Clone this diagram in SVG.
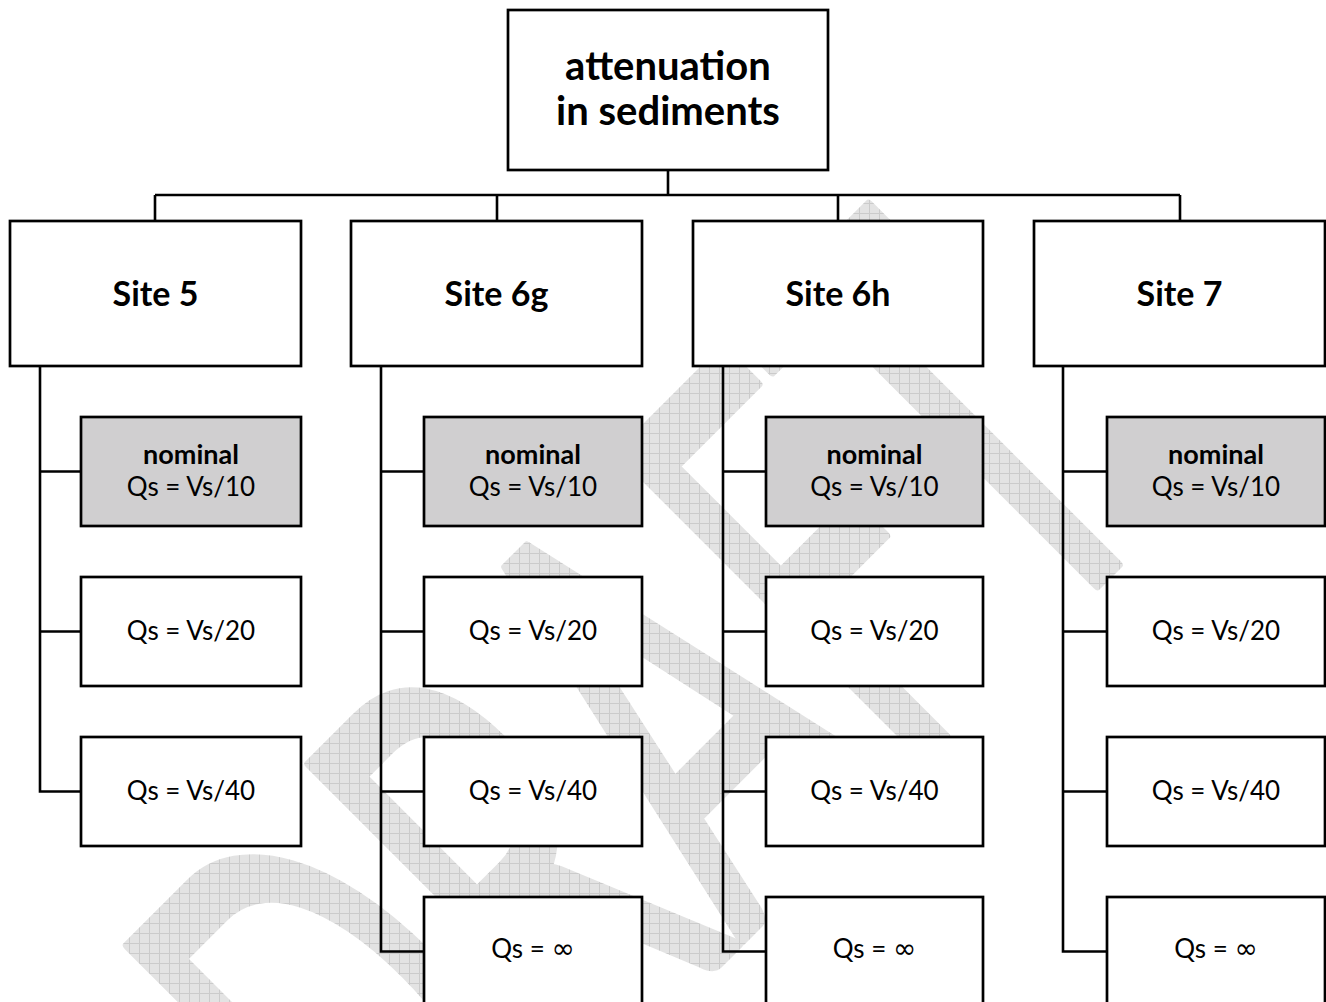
<svg xmlns="http://www.w3.org/2000/svg" width="1326" height="1002" viewBox="0 0 1326 1002">
  <style>
    .box { fill: #ffffff; stroke: #000000; stroke-width: 2.7; }
    .shade { fill: #d0cfd0; }
    .wire { fill: none; stroke: #000000; stroke-width: 2.6; stroke-linejoin: miter; }
    .t { font-family: Lato, "Open Sans", "Liberation Sans", sans-serif; fill: #000000; text-anchor: middle; }
    .title { font-size: 40px; font-weight: bold; }
    .site { font-size: 34px; font-weight: bold; }
    .lbl { font-size: 26px; }
    .lblb { font-size: 27px; font-weight: bold; }
    .inf { font-family: "DejaVu Sans", sans-serif; font-size: 28px; }
    .mark { font-family: Lato, "Open Sans", "Liberation Sans", sans-serif; font-size: 600px; }
  </style>
  <defs>
    <!-- light grid fill for the background stamp; counter-rotated so the grid stays square to the page -->
    <pattern id="hatch" width="10" height="10" patternUnits="userSpaceOnUse" patternTransform="rotate(45)">
      <rect width="10" height="10" fill="#e3e3e3"/>
      <path d="M0 0.5H10M0.5 0V10" stroke="#cbcbcb" stroke-width="1"/>
    </pattern>
  </defs>

  <rect width="1326" height="1002" fill="#ffffff"/>

  <!-- background stamp -->
  <g id="stamp">
    <text class="mark" x="0" y="0" transform="translate(409 1273) rotate(-45)" textLength="1087" lengthAdjust="spacingAndGlyphs" fill="url(#hatch)" stroke="url(#hatch)" stroke-width="10" stroke-linejoin="round">DRAFT</text>
  </g>

  <!-- connectors -->
  <g id="connectors" class="wire">
    <path d="M668 170V195M155 195H1180M155 195V221M497 195V221M838 195V221M1180 195V221"/>
    <path d="M40 366V791.5H81M40 471.5H81M40 631.5H81"/>
    <path d="M381 366V951.5H424M381 471.5H424M381 631.5H424M381 791.5H424"/>
    <path d="M723 366V951.5H766M723 471.5H766M723 631.5H766M723 791.5H766"/>
    <path d="M1063 366V951.5H1107M1063 471.5H1107M1063 631.5H1107M1063 791.5H1107"/>
  </g>

  <!-- root -->
  <g id="root">
    <rect class="box" x="508" y="10" width="320" height="160"/>
    <text class="t title" x="668" y="80">attenuation</text>
    <text class="t title" x="668" y="125">in sediments</text>
  </g>

  <!-- sites -->
  <g id="site5">
    <rect class="box" x="10" y="221" width="291" height="145"/>
    <text class="t site" x="155.5" y="306">Site 5</text>
  </g>
  <g id="site6g">
    <rect class="box" x="351" y="221" width="291" height="145"/>
    <text class="t site" x="496.5" y="306">Site 6g</text>
  </g>
  <g id="site6h">
    <rect class="box" x="693" y="221" width="290" height="145"/>
    <text class="t site" x="838" y="306">Site 6h</text>
  </g>
  <g id="site7">
    <rect class="box" x="1034" y="221" width="291" height="145"/>
    <text class="t site" x="1179.5" y="306">Site 7</text>
  </g>

  <!-- Site 5 cases -->
  <g id="s5-nominal">
    <rect class="box shade" x="81" y="417" width="220" height="109"/>
    <text class="t lblb" x="191" y="464">nominal</text>
    <text class="t lbl" x="191" y="496">Qs = Vs/10</text>
  </g>
  <g id="s5-q20">
    <rect class="box" x="81" y="577" width="220" height="109"/>
    <text class="t lbl" x="191" y="640">Qs = Vs/20</text>
  </g>
  <g id="s5-q40">
    <rect class="box" x="81" y="737" width="220" height="109"/>
    <text class="t lbl" x="191" y="800">Qs = Vs/40</text>
  </g>

  <!-- Site 6g cases -->
  <g id="s6g-nominal">
    <rect class="box shade" x="424" y="417" width="218" height="109"/>
    <text class="t lblb" x="533" y="464">nominal</text>
    <text class="t lbl" x="533" y="496">Qs = Vs/10</text>
  </g>
  <g id="s6g-q20">
    <rect class="box" x="424" y="577" width="218" height="109"/>
    <text class="t lbl" x="533" y="640">Qs = Vs/20</text>
  </g>
  <g id="s6g-q40">
    <rect class="box" x="424" y="737" width="218" height="109"/>
    <text class="t lbl" x="533" y="800">Qs = Vs/40</text>
  </g>
  <g id="s6g-qinf">
    <rect class="box" x="424" y="897" width="218" height="110"/>
    <text class="t lbl" x="533" y="958">Qs = <tspan class="inf">∞</tspan></text>
  </g>

  <!-- Site 6h cases -->
  <g id="s6h-nominal">
    <rect class="box shade" x="766" y="417" width="217" height="109"/>
    <text class="t lblb" x="874.5" y="464">nominal</text>
    <text class="t lbl" x="874.5" y="496">Qs = Vs/10</text>
  </g>
  <g id="s6h-q20">
    <rect class="box" x="766" y="577" width="217" height="109"/>
    <text class="t lbl" x="874.5" y="640">Qs = Vs/20</text>
  </g>
  <g id="s6h-q40">
    <rect class="box" x="766" y="737" width="217" height="109"/>
    <text class="t lbl" x="874.5" y="800">Qs = Vs/40</text>
  </g>
  <g id="s6h-qinf">
    <rect class="box" x="766" y="897" width="217" height="110"/>
    <text class="t lbl" x="874.5" y="958">Qs = <tspan class="inf">∞</tspan></text>
  </g>

  <!-- Site 7 cases -->
  <g id="s7-nominal">
    <rect class="box shade" x="1107" y="417" width="218" height="109"/>
    <text class="t lblb" x="1216" y="464">nominal</text>
    <text class="t lbl" x="1216" y="496">Qs = Vs/10</text>
  </g>
  <g id="s7-q20">
    <rect class="box" x="1107" y="577" width="218" height="109"/>
    <text class="t lbl" x="1216" y="640">Qs = Vs/20</text>
  </g>
  <g id="s7-q40">
    <rect class="box" x="1107" y="737" width="218" height="109"/>
    <text class="t lbl" x="1216" y="800">Qs = Vs/40</text>
  </g>
  <g id="s7-qinf">
    <rect class="box" x="1107" y="897" width="218" height="110"/>
    <text class="t lbl" x="1216" y="958">Qs = <tspan class="inf">∞</tspan></text>
  </g>
</svg>
